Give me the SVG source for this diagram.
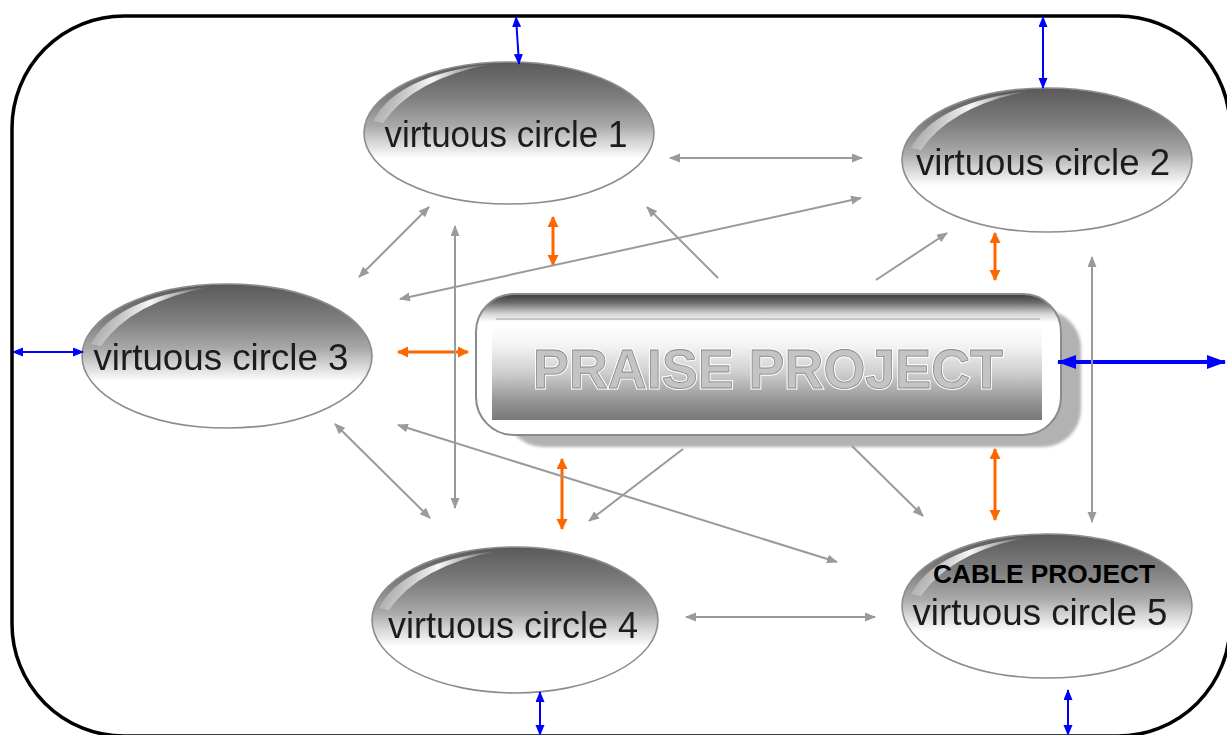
<svg xmlns="http://www.w3.org/2000/svg" xmlns:xlink="http://www.w3.org/1999/xlink" width="1227" height="735" viewBox="0 0 1227 735">
<defs>
<style>
.ell{stroke:#8c8c8c;stroke-width:1.6;fill:url(#gEll)}
.lbl{font-family:"Liberation Sans",Arial,sans-serif;font-size:36px;fill:#1a1a1a;text-anchor:middle}
.gray{stroke:#9a9a9a;stroke-width:2;fill:none;marker-start:url(#mG);marker-end:url(#mG)}
.gray1{stroke:#9a9a9a;stroke-width:2;fill:none;marker-end:url(#mG)}
.org{stroke:#ff6600;stroke-width:3;fill:none;marker-start:url(#mO);marker-end:url(#mO)}
.blu{stroke:#0000ff;stroke-width:2;fill:none;marker-start:url(#mB);marker-end:url(#mB)}
.bluT{stroke:#0000ff;stroke-width:4;fill:none;marker-start:url(#mBT);marker-end:url(#mBT)}
</style>
<linearGradient id="gEll" x1="0" y1="0" x2="0" y2="1">
<stop offset="0" stop-color="#5a5a5a"/>
<stop offset="0.25" stop-color="#7e7e7e"/>
<stop offset="0.45" stop-color="#a9a9a9"/>
<stop offset="0.56" stop-color="#d4d4d4"/>
<stop offset="0.68" stop-color="#ffffff"/>
<stop offset="1" stop-color="#ffffff"/>
</linearGradient>
<linearGradient id="gHl" x1="0" y1="0" x2="1" y2="0">
<stop offset="0" stop-color="#ffffff" stop-opacity="0.2"/>
<stop offset="0.5" stop-color="#ffffff" stop-opacity="0.95"/>
<stop offset="1" stop-color="#ffffff" stop-opacity="0"/>
</linearGradient>
<linearGradient id="gBoxOuter" x1="0" y1="0" x2="0" y2="1">
<stop offset="0" stop-color="#3c3c3c"/>
<stop offset="0.06" stop-color="#6a6a6a"/>
<stop offset="0.14" stop-color="#d4d4d4"/>
<stop offset="0.2" stop-color="#ffffff"/>
<stop offset="1" stop-color="#ffffff"/>
</linearGradient>
<linearGradient id="gBoxInner" x1="0" y1="0" x2="0" y2="1">
<stop offset="0" stop-color="#ffffff"/>
<stop offset="0.22" stop-color="#f3f3f3"/>
<stop offset="0.5" stop-color="#cfcfcf"/>
<stop offset="0.8" stop-color="#959595"/>
<stop offset="1" stop-color="#787878"/>
</linearGradient>
<filter id="soft" x="-5%" y="-5%" width="110%" height="110%"><feGaussianBlur stdDeviation="0.5"/></filter>
<filter id="shBlur" x="-5%" y="-10%" width="110%" height="120%"><feGaussianBlur stdDeviation="1.5"/></filter>
<path id="hl" d="M -136,-12 Q -112,-58 -18,-69 Q -96,-54 -126,-10 Z" fill="url(#gHl)"/>
<marker id="mG" markerUnits="userSpaceOnUse" markerWidth="12" markerHeight="10" refX="10" refY="4.5" orient="auto-start-reverse"><path d="M0,0 L11,4.5 L0,9 z" fill="#9a9a9a"/></marker>
<marker id="mO" markerUnits="userSpaceOnUse" markerWidth="12" markerHeight="12" refX="10" refY="5.5" orient="auto-start-reverse"><path d="M0,0 L11,5.5 L0,11 z" fill="#ff6600"/></marker>
<marker id="mB" markerUnits="userSpaceOnUse" markerWidth="12" markerHeight="10" refX="10" refY="4.5" orient="auto-start-reverse"><path d="M0,0 L11,4.5 L0,9 z" fill="#0000ff"/></marker>
<marker id="mBT" markerUnits="userSpaceOnUse" markerWidth="20" markerHeight="16" refX="18" refY="7" orient="auto-start-reverse"><path d="M0,0 L19,7 L0,14 z" fill="#0000ff"/></marker>
</defs>
<rect width="1227" height="735" fill="#ffffff"/>
<rect id="frame" x="12" y="16" width="1218" height="720" rx="112" ry="112" fill="none" stroke="#000000" stroke-width="3.5"/>

<g id="praise">
<rect x="505" y="310" width="576" height="137" rx="38" fill="#b2b2b2" filter="url(#shBlur)"/>
<rect x="476" y="294" width="585" height="141" rx="38" fill="url(#gBoxOuter)" stroke="#8a8a8a" stroke-width="2"/>
<line x1="496" y1="319" x2="1040" y2="319" stroke="#b8b8b8" stroke-width="1.5"/>
<rect x="492" y="325" width="550" height="95" fill="url(#gBoxInner)"/>
<text x="768" y="388" font-family="'Liberation Sans',Arial,sans-serif" font-size="55" font-weight="bold" text-anchor="middle" fill="#c4c4c4" stroke="#ffffff" stroke-width="3" paint-order="stroke" textLength="470" lengthAdjust="spacingAndGlyphs">PRAISE PROJECT</text>
<text x="768" y="388" font-family="'Liberation Sans',Arial,sans-serif" font-size="55" font-weight="bold" text-anchor="middle" fill="#c4c4c4" stroke="#8a8a8a" stroke-width="0.8" textLength="470" lengthAdjust="spacingAndGlyphs">PRAISE PROJECT</text>
</g>

<g id="circle1">
<ellipse class="ell" cx="509" cy="133" rx="145" ry="71"/>
<use xlink:href="#hl" href="#hl" x="509" y="133"/>
<text class="lbl" x="506" y="147" textLength="243" lengthAdjust="spacingAndGlyphs" filter="url(#soft)">virtuous circle 1</text>
</g>
<g id="circle2">
<ellipse class="ell" cx="1047" cy="160" rx="145" ry="72"/>
<use xlink:href="#hl" href="#hl" x="1047" y="160"/>
<text class="lbl" x="1043" y="175" textLength="254" lengthAdjust="spacingAndGlyphs" filter="url(#soft)">virtuous circle 2</text>
</g>
<g id="circle3">
<ellipse class="ell" cx="227" cy="356" rx="145" ry="72"/>
<use xlink:href="#hl" href="#hl" x="227" y="356"/>
<text class="lbl" x="221" y="370" textLength="255" lengthAdjust="spacingAndGlyphs" filter="url(#soft)">virtuous circle 3</text>
</g>
<g id="circle4">
<ellipse class="ell" cx="515" cy="620" rx="143" ry="73"/>
<use xlink:href="#hl" href="#hl" x="515" y="620"/>
<text class="lbl" x="513" y="638" textLength="250" lengthAdjust="spacingAndGlyphs" filter="url(#soft)">virtuous circle 4</text>
</g>
<g id="circle5">
<ellipse class="ell" cx="1047" cy="606" rx="145" ry="72"/>
<use xlink:href="#hl" href="#hl" x="1047" y="606"/>
<text font-family="'Liberation Sans',Arial,sans-serif" font-size="25" font-weight="bold" fill="#000000" text-anchor="middle" x="1044" y="583" textLength="222" lengthAdjust="spacingAndGlyphs">CABLE PROJECT</text>
<text class="lbl" x="1040" y="625" textLength="255" lengthAdjust="spacingAndGlyphs" filter="url(#soft)">virtuous circle 5</text>
</g>

<g id="connectors">
<line class="blu" x1="516" y1="17" x2="519" y2="64"/>
<line class="blu" x1="1043" y1="17" x2="1043" y2="88"/>
<line class="blu" x1="13" y1="352" x2="83" y2="352"/>
<line class="blu" x1="540" y1="692" x2="540" y2="735"/>
<line class="blu" x1="1068" y1="690" x2="1068" y2="735"/>
<line class="bluT" x1="1058" y1="362" x2="1225" y2="362"/>

<line class="org" x1="553" y1="217" x2="553" y2="265"/>
<line class="org" x1="995" y1="233" x2="995" y2="280"/>
<line class="org" x1="398" y1="352" x2="468" y2="352"/>
<line class="org" x1="562" y1="459" x2="562" y2="529"/>
<line class="org" x1="995" y1="449" x2="995" y2="520"/>

<line class="gray" x1="670" y1="158" x2="862" y2="158"/>
<line class="gray" x1="429" y1="207" x2="359" y2="277"/>
<line class="gray" x1="455" y1="226" x2="455" y2="508"/>
<line class="gray" x1="400" y1="299" x2="861" y2="198"/>
<line class="gray1" x1="718" y1="278" x2="647" y2="207"/>
<line class="gray1" x1="876" y1="280" x2="947" y2="233"/>
<line class="gray" x1="1092" y1="257" x2="1092" y2="522"/>
<line class="gray" x1="335" y1="424" x2="430" y2="518"/>
<line class="gray" x1="398" y1="425" x2="837" y2="562"/>
<line class="gray1" x1="683" y1="449" x2="589" y2="521"/>
<line class="gray1" x1="852" y1="446" x2="923" y2="516"/>
<line class="gray" x1="686" y1="617" x2="875" y2="617"/>
</g>
</svg>
